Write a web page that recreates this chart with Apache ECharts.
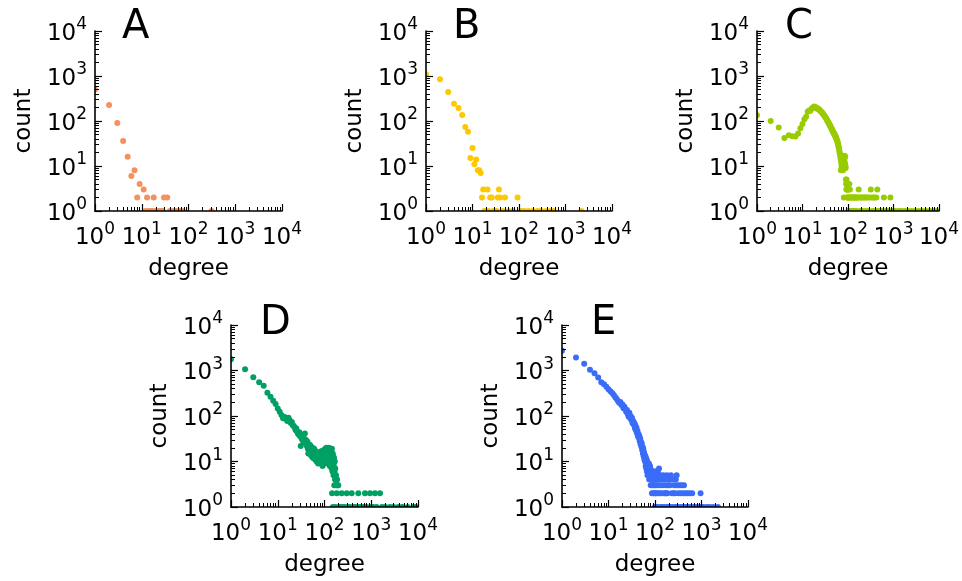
<!DOCTYPE html>
<html><head><meta charset="utf-8">
<script src="https://cdn.jsdelivr.net/npm/echarts@6/dist/echarts.min.js"></script>
<style>html,body{margin:0;padding:0;background:#fff}#c{width:962px;height:581px}</style>
</head><body><div id="c"></div>
<script>
// ---------------- data ----------------
const panelLabels = ['A', 'B', 'C', 'D', 'E'];
const xAxisName = 'degree';
const yAxisName = 'count';
const majorTicks = [1, 10, 100, 1000, 10000];
const minorTicks = [2,3,4,5,6,7,8,9,20,30,40,50,60,70,80,90,200,300,400,500,600,700,800,900,2000,3000,4000,5000,6000,7000,8000,9000];

const aDegree = [1,2,3,4,5,6,7,8,9,11,13,18,30,35,12,14,15,17,20,23,26,28,40,48,55,65,75,310];
const aCount  = [500,228,90,36,16,6,8,2,4,3,2,2,2,2,1,1,1,1,1,1,1,1,1,1,1,1,1,1];

const bDegree = [1,2,3,4,5,6,7,8,9,10,11,12,13,14,15,16,17,21,24,26,35,37,39,50,93,
  18,19,22,28,31,33,45,60,75,110,130,160,200,250,300,380,470,560,2200];
const bCount  = [1100,846,441,243,194,136,74,58,15,25,11,14,8,8,7,2,3,3,2,2,2,3,2,2,2,
  1,1,1,1,1,1,1,1,1,1,1,1,1,1,1,1,1,1,1];

const cDegree = [1,2,3,4,5,6,7,8,9,10,11,12,13,14,15,16,17,18,19,20,21,22,23,24,25,26,27,28,29,30,
  31,32,33,34,35,36,37,38,39,40,41,42,43,44,45,46,47,48,49,50,51,52,53,54,55,56,57,58,59,60,
  61,62,63,64,65,66,67,68,69,70,71,72,73,74,75,76,77,78,79,80,81,82,83,84,85,86,87,88,89,
  90,91,92,93,94,95,96,97,98,99,100,101,102,103,105,107,108,110,112,115,118,120,123,127,130,134,138,142,146,150,
  155,160,165,172,178,185,192,200,210,220,230,240,252,265,280,295,318,330,345,360,380,400,420,442,460,500,
  560,615,680,760,855,950,1100,1300,1500,1800,2100,2500,3000,3600,4300,5200,6300,7600,9000];
const cCount  = [134,100,72,42,48,46,45,53,69,86,109,125,160,172,168,190,200,210,205,198,188,190,180,175,164,160,150,148,138,133,
  128,120,116,108,104,96,94,88,84,80,76,72,70,66,63,60,57,55,52,53,50,47,46,44,42,40,38,36,34,32,
  29,27,25,23,21,19,18,16,14,8,12,10,9,13,15,11,10,8,12,9,2,10,14,17,12,11,16,10,9,
  5,4,3,5,4,3,2,4,3,2,3,2,1,3,2,4,1,3,2,1,2,1,2,2,1,2,2,1,2,2,
  1,2,2,3,2,1,2,2,1,2,2,1,2,2,1,2,3,2,1,2,2,1,2,3,1,1,
  1,2,1,1,2,1,1,1,1,1,1,1,1,1,1,1,1,1,1];

const dDegree = [1,2,3,4,5,6,7,8,9,10,11,12,13,14,15,16,17,18,19,20,21,22,23,24,25,26,27,28,29,30,
  31,32,33,34,35,36,37,38,39,40,41,42,43,44,45,46,47,48,49,50,51,52,53,54,55,56,57,58,59,60,
  62,63,64,65,66,67,68,69,70,72,73,74,75,76,78,79,80,82,83,84,86,87,88,90,91,92,94,95,97,98,
  100,101,103,104,106,108,110,112,114,116,118,120,122,124,126,128,130,132,134,136,138,140,142,144,146,148,150,152,154,156,
  158,160,162,164,166,168,170,173,176,180,186,190,197,
  145,183,233,298,382,528,735,940,1202,1540,
  151,171,205,215,245,270,320,350,420,460,560,620,700,800,1000,1100,1300,1700,2000,2500,3000,3800,4600,6000,8000,9000];
const dCount  = [1765,1063,708,550,462,324,265,216,183,147,124,105,89,95,86,78,92,81,70,74,63,60,56,49,53,45,41,39,44,36,
  22,34,31,38,28,33,26,41,30,25,29,22,27,19,15,24,20,18,23,17,14,21,13,16,20,18,12,16,14,19,
  15,11,17,13,12,16,10,14,11,15,9,13,12,16,11,14,10,13,9,15,12,17,10,13,8,16,11,14,12,18,
  9,15,11,19,13,16,20,12,17,9,14,18,11,20,15,13,8,17,12,16,10,14,7,19,11,6,15,9,13,5,
  8,12,3,6,10,4,7,4,5,3,4,3,3,
  2,2,2,2,2,2,2,2,2,2,
  1,1,1,1,1,1,1,1,1,1,1,1,1,1,1,1,1,1,1,1,1,1,1,1,1,1];

const eDegree = [1,2,3,4,5,6,7,8,9,10,11,12,13,14,15,16,17,18,19,20,21,22,23,24,25,26,27,28,29,30,
  31,32,33,34,35,36,37,38,39,40,41,42,43,44,45,46,47,48,49,50,51,52,53,54,55,56,57,58,59,60,
  61,62,63,64,65,66,67,68,69,70,71,72,73,74,75,76,77,78,79,80,81,82,83,84,85,86,87,88,89,90,
  122,
  92,100,105,115,
  95,110,130,150,180,220,292,
  93,98,108,120,140,160,200,240,280,
  96,103,112,125,145,170,190,210,260,300,340,380,420,
  91,97,102,107,117,128,135,155,165,175,185,230,250,270,320,360,400,450,500,560,630,955,
  99,113,132,142,158,178,195,215,245,275,310,350,390,440,480,540,600,700,800,900,1000,1100,1300,1500,1800,2250];
const eCount  = [2710,1930,1400,1033,873,700,553,500,442,388,350,320,290,258,235,214,195,204,175,180,148,160,140,124,136,110,97,118,92,100,
  82,90,69,78,64,70,54,62,48,55,42,47,36,40,33,37,28,32,24,27,21,25,18,21,15,19,13,16,11,14,
  10,13,8,12,7,11,6,10,5,9,6,8,5,9,4,7,6,8,5,7,3,6,4,5,6,2,4,5,3,4,
  7,
  6,6,6,6,
  5,5,5,5,5,5,5,
  4,4,4,4,4,4,4,4,4,
  3,3,3,3,3,3,3,3,3,3,3,3,3,
  2,2,2,2,2,2,2,2,2,2,2,2,2,2,2,2,2,2,2,2,2,2,
  1,1,1,1,1,1,1,1,1,1,1,1,1,1,1,1,1,1,1,1,1,1,1,1,1,1];

// ---------------- layout / style ----------------
const FONT = 'DejaVu Sans';
const panels = [
  { deg: aDegree, cnt: aCount, color: '#f4915c', grid: { left: 95,  top: 31,  width: 187, height: 180 }, letter: { left: 122, top: 8 } },
  { deg: bDegree, cnt: bCount, color: '#fdc800', grid: { left: 426, top: 31,  width: 186, height: 180 }, letter: { left: 453, top: 8 } },
  { deg: cDegree, cnt: cCount, color: '#99cc00', grid: { left: 757, top: 31,  width: 186, height: 180 }, letter: { left: 785, top: 8 } },
  { deg: dDegree, cnt: dCount, color: '#00a064', grid: { left: 231, top: 325, width: 187, height: 182 }, letter: { left: 260, top: 304 } },
  { deg: eDegree, cnt: eCount, color: '#3a6cf8', grid: { left: 562, top: 325, width: 186, height: 182 }, letter: { left: 591, top: 304 } }
];

const rich = {
  b: { fontSize: 23, fontFamily: FONT, color: '#000', verticalAlign: 'bottom', lineHeight: 29 },
  s: { fontSize: 17, fontFamily: FONT, color: '#000', verticalAlign: 'top', lineHeight: 29 }
};
const fmt = v => '{b|10}{s|' + Math.round(Math.log10(v)) + '}';

function mainAxis(i, isX) {
  return {
    type: 'log', logBase: 10, min: 1, max: 10000, gridIndex: i,
    position: isX ? 'bottom' : 'left',
    name: isX ? xAxisName : yAxisName,
    nameLocation: 'middle',
    nameGap: isX ? 47 : 59,
    nameTextStyle: { fontSize: 23, fontFamily: FONT, color: '#000' },
    axisLine: { show: true, lineStyle: { color: '#000', width: 1.6 } },
    axisTick: { show: true, inside: true, length: 7, lineStyle: { color: '#000', width: 1.2 }, customValues: majorTicks },
    axisLabel: { show: true, margin: isX ? 10 : 8, fontSize: 23, fontFamily: FONT, color: '#000',
      formatter: fmt, rich: rich, customValues: majorTicks, showMinLabel: true, showMaxLabel: true },
    splitLine: { show: false },
    z: 5
  };
}
function minorAxis(i, isX) {
  return {
    type: 'log', logBase: 10, min: 1, max: 10000, gridIndex: i,
    position: isX ? 'bottom' : 'left',
    axisLine: { show: false },
    axisTick: { show: true, inside: true, length: 4, lineStyle: { color: '#000', width: 1 }, customValues: minorTicks },
    axisLabel: { show: false },
    splitLine: { show: false },
    z: 5
  };
}

const option = {
  backgroundColor: '#fff',
  animation: false,
  title: panels.map((p, i) => ({
    text: panelLabels[i], left: p.letter.left, top: p.letter.top, padding: 0,
    textStyle: { fontSize: 40, fontWeight: 'normal', fontFamily: FONT, color: '#000' }
  })),
  grid: panels.map(p => Object.assign({ containLabel: false }, p.grid)),
  xAxis: [],
  yAxis: [],
  series: []
};
panels.forEach((p, i) => {
  option.xAxis.push(mainAxis(i, true));
  option.yAxis.push(mainAxis(i, false));
});
panels.forEach((p, i) => {
  option.xAxis.push(minorAxis(i, true));
  option.yAxis.push(minorAxis(i, false));
});
panels.forEach((p, i) => {
  option.series.push({
    type: 'custom', xAxisIndex: i, yAxisIndex: i,
    coordinateSystem: 'cartesian2d',
    clip: true,
    encode: { x: 0, y: 1 },
    data: p.deg.map((d, k) => [d, p.cnt[k]]),
    renderItem: (params, api) => {
      const pt = api.coord([api.value(0), api.value(1)]);
      return { type: 'circle', shape: { cx: pt[0], cy: pt[1], r: 3 }, style: { fill: p.color } };
    },
    z: 2
  });
});

const chart = echarts.init(document.getElementById('c'), null, { renderer: 'canvas' });
chart.setOption(option);
</script>
</body></html>
